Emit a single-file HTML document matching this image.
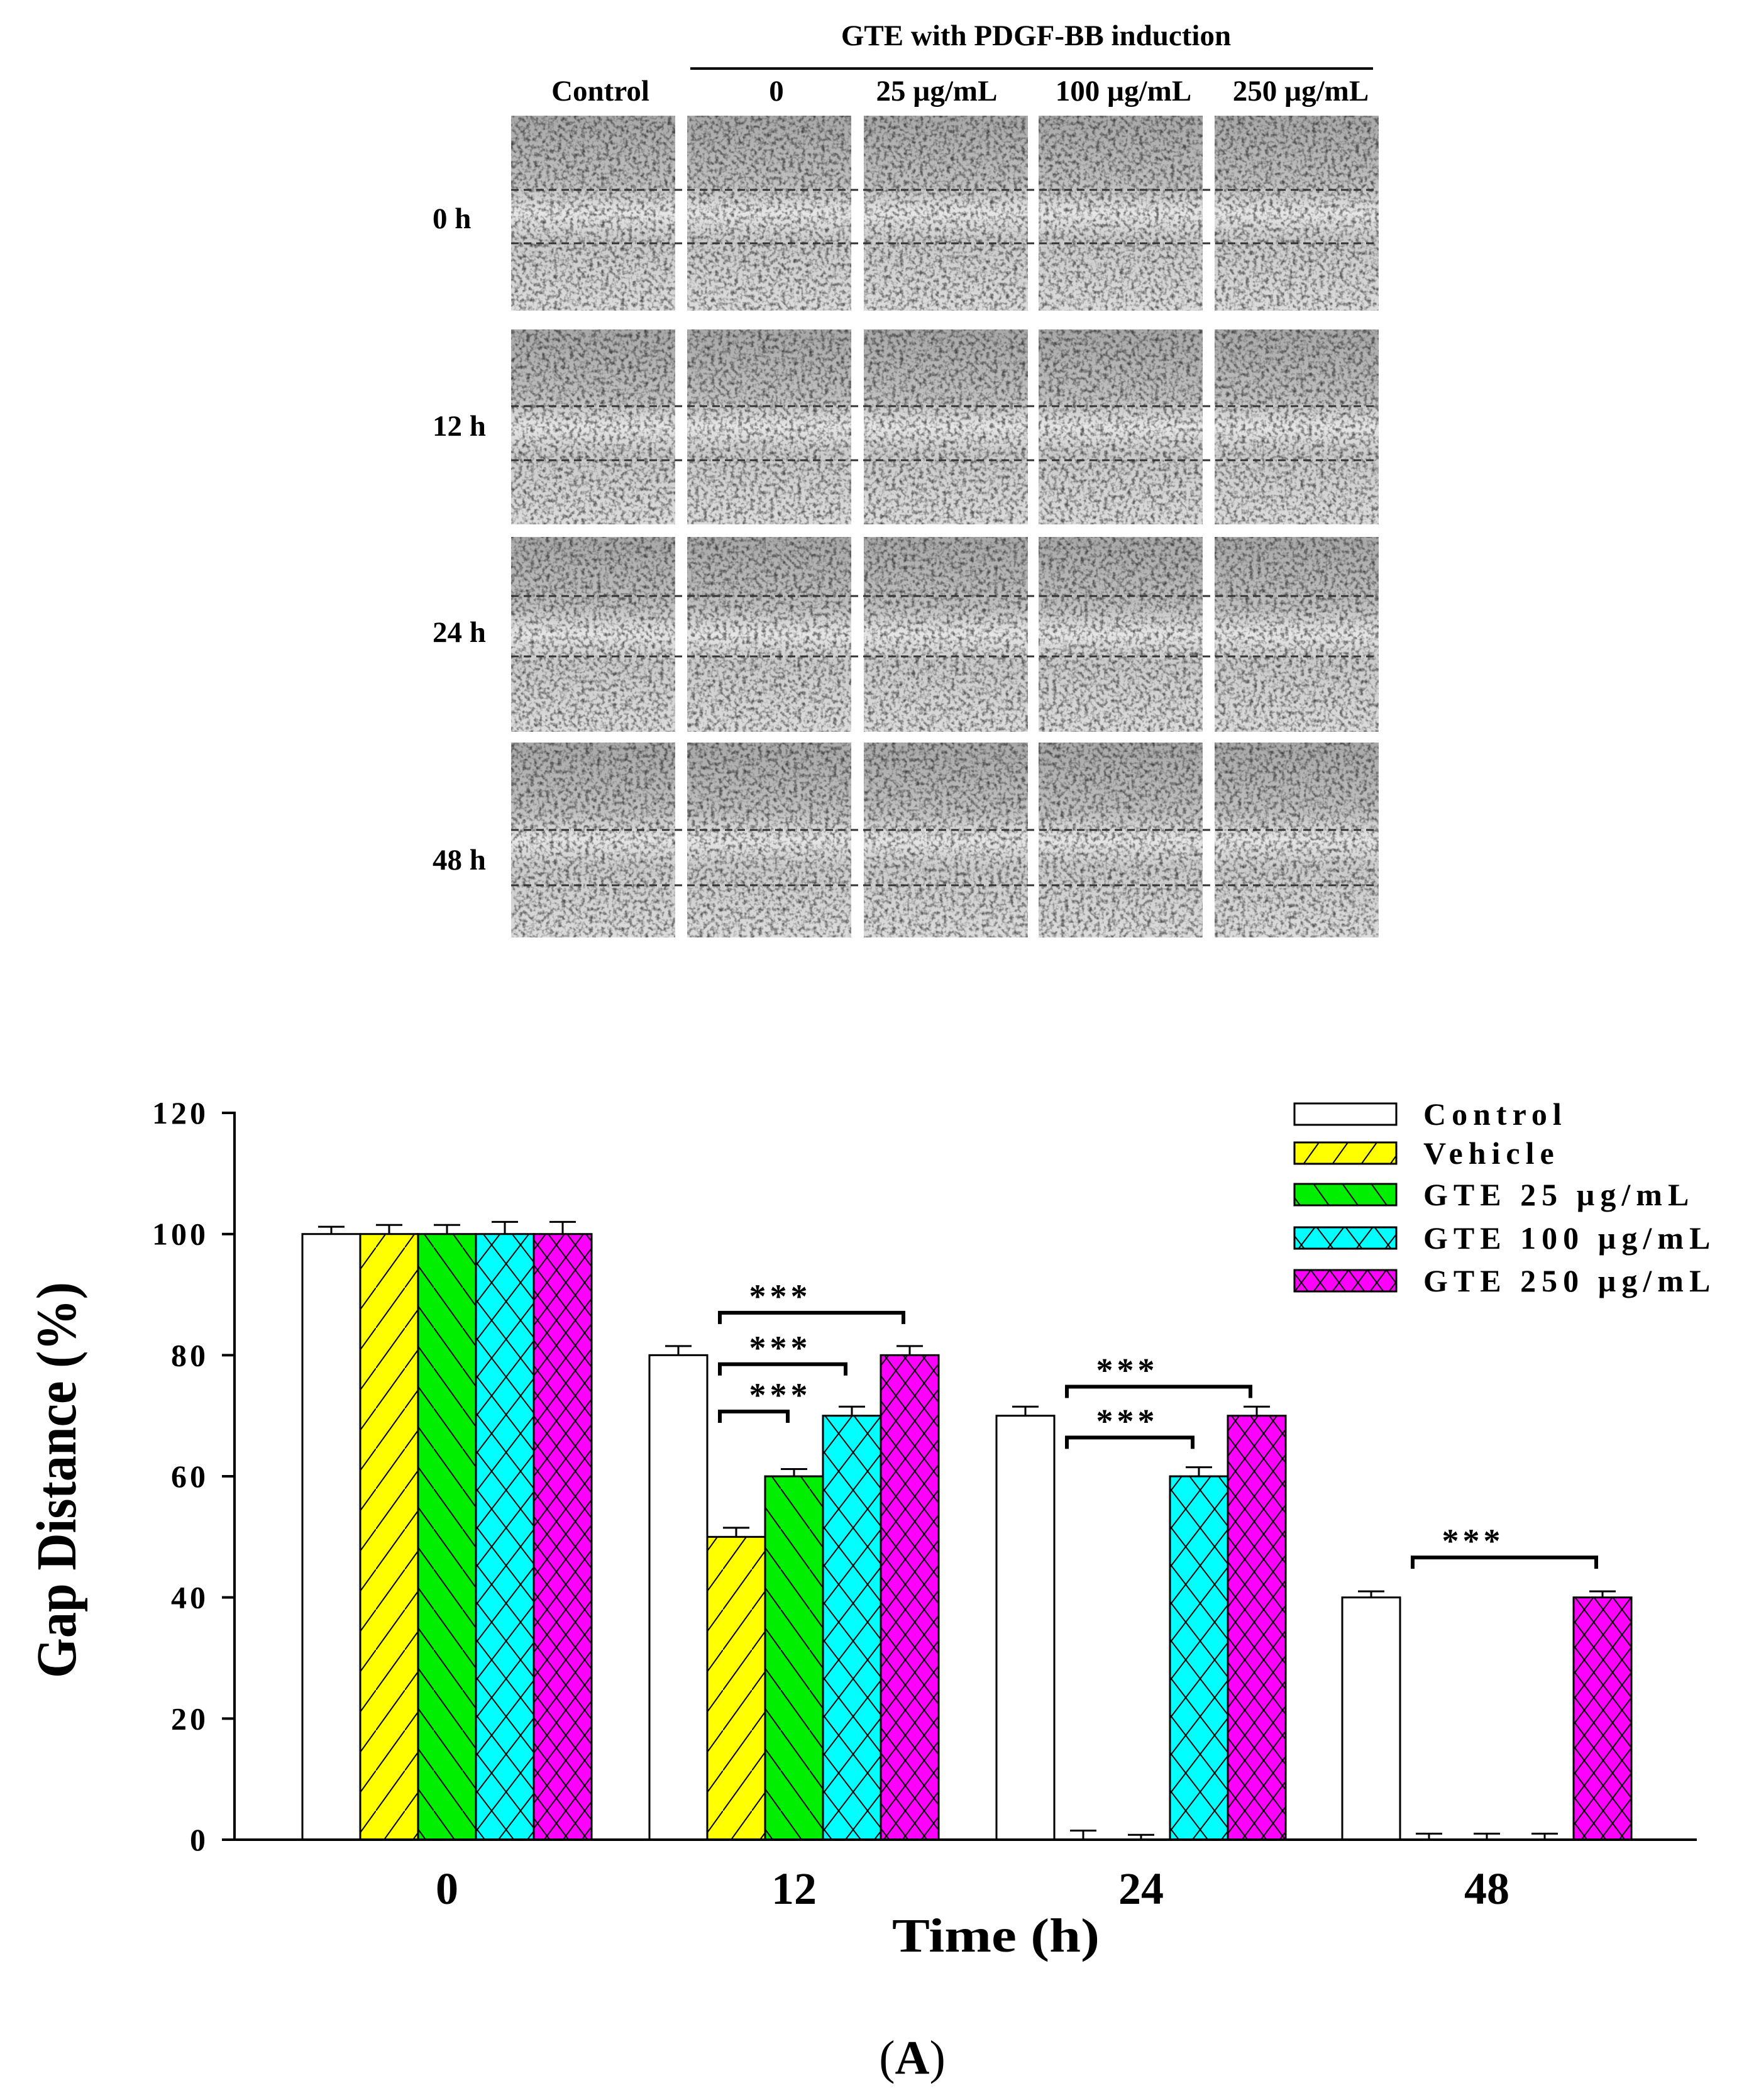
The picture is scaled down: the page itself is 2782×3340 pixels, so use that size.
<!DOCTYPE html>
<html><head><meta charset="utf-8">
<style>
html,body{margin:0;padding:0;background:#fff;}
svg{display:block;}
text{font-family:"Liberation Serif",serif;font-weight:bold;fill:#000;}
</style></head>
<body>
<svg id="fig" xmlns="http://www.w3.org/2000/svg" width="2782" height="3340" viewBox="0 0 2782 3340">
<defs>
  <filter id="cells" x="0" y="0" width="1" height="1">
    <feTurbulence type="fractalNoise" baseFrequency="0.16" numOctaves="2" seed="3" result="n"/>
    <feColorMatrix type="matrix" values="0 0 0 0 0  0 0 0 0 0  0 0 0 0 0  -2.6 0 0 0 1.45" in="n" result="a"/>
    <feComposite in="a" in2="SourceGraphic" operator="in"/>
  </filter>
  <linearGradient id="gapg" x1="0" y1="0" x2="0" y2="1">
    <stop offset="0" stop-color="#a8a8a8"/><stop offset="0.36" stop-color="#c0c0c0"/>
    <stop offset="0.5" stop-color="#e6e6e6"/><stop offset="0.64" stop-color="#cacaca"/><stop offset="1" stop-color="#dcdcdc"/>
  </linearGradient>
  <pattern id="pYel" patternUnits="userSpaceOnUse" width="46" height="64">
    <rect width="46" height="64" fill="#ffff00"/>
    <path d="M0,64 L46,0" stroke="#000" stroke-width="2"/>
  </pattern>
  <pattern id="pGrn" patternUnits="userSpaceOnUse" width="46" height="64">
    <rect width="46" height="64" fill="#00ee00"/>
    <path d="M0,0 L46,64" stroke="#000" stroke-width="2"/>
  </pattern>
  <pattern id="pCyn" patternUnits="userSpaceOnUse" width="46" height="60">
    <rect width="46" height="60" fill="#00ffff"/>
    <path d="M0,0 L46,60 M0,60 L46,0" stroke="#000" stroke-width="2"/>
  </pattern>
  <pattern id="pMag" patternUnits="userSpaceOnUse" width="30" height="40">
    <rect width="30" height="40" fill="#ff00ff"/>
    <path d="M0,0 L30,40 M0,40 L30,0" stroke="#000" stroke-width="2"/>
  </pattern>
</defs>

<g id="micro"></g>
<text x="1648" y="72" font-size="47" text-anchor="middle">GTE with PDGF-BB induction</text>
<line x1="1098" y1="109" x2="2184" y2="109" stroke="#000" stroke-width="4"/>

<g id="chart"></g>
<text x="1451" y="3298" font-size="76" text-anchor="middle" style="font-weight:normal">(<tspan font-weight="bold">A</tspan>)</text>
</svg>
<script>
const colLabels = ["Control","0","25 µg/mL","100 µg/mL","250 µg/mL"];
const rowLabels = ["0 h","12 h","24 h","48 h"];
const NS="http://www.w3.org/2000/svg";
function mk(tag, attrs, parent){const e=document.createElementNS(NS,tag);for(const k in attrs)e.setAttribute(k,attrs[k]);parent.appendChild(e);return e;}
const micro=document.getElementById('micro');
const colX=[813,1093,1374,1652,1932], colW=261;
const rowY=[184,524,854,1181], rowH=310;
const gapLines=[[302,387],[646,732],[948,1044],[1320,1408]];
const colHdrX=[955,1235,1490,1787,2069];
colLabels.forEach((c,i)=>{
  const t=mk('text',{x:colHdrX[i],y:160,'font-size':47,'text-anchor':'middle'},micro);
  
  
  t.textContent=c;
});
const rowLabY=[363,693,1021,1383];
rowLabels.forEach((r,i)=>{
  const t=mk('text',{x:688,y:rowLabY[i],'font-size':47},micro);
  
  
  t.textContent=r;
  colX.forEach((x,j)=>{
    const g=mk('g',{},micro);
    
    
    mk('rect',{x:x,y:rowY[i],width:colW,height:rowH,fill:'url(#gapg)'},g);
    mk('rect',{x:x,y:rowY[i],width:colW,height:rowH,fill:'#111',filter:'url(#cells)',opacity:0.6},g);
  });
  gapLines[i].forEach(yy=>{
    const l=mk('line',{x1:813,x2:2193,y1:yy,y2:yy,stroke:'#333','stroke-width':3,'stroke-dasharray':'12 8'},micro);
    
    
  });
});

// ---- bar chart data ----
const categories = ["0","12","24","48"];
const seriesNames = ["Control","Vehicle","GTE 25 µg/mL","GTE 100 µg/mL","GTE 250 µg/mL"];
const controlVals = [100,80,70,40];
const vehicleVals = [100,50,0,0];
const gte25Vals   = [100,60,0,0];
const gte100Vals  = [100,70,60,0];
const gte250Vals  = [100,80,70,40];
const controlErr = [1.2,1.5,1.5,1.0];
const vehicleErr = [1.5,1.5,1.5,1.0];
const gte25Err   = [1.5,1.2,0.8,1.0];
const gte100Err  = [2.0,1.5,1.5,1.0];
const gte250Err  = [2.0,1.5,1.5,1.0];
const yTicks = [0,20,40,60,80,100,120];
const sigLabel = "***";
const brackets = [[1,1,4,87],[1,1,3,78.5],[1,1,2,70.7],[2,1,4,74.8],[2,1,3,66.4],[3,1,4,46.6]];

const fills=['#fff','url(#pYel)','url(#pGrn)','url(#pCyn)','url(#pMag)'];
const allVals=[controlVals,vehicleVals,gte25Vals,gte100Vals,gte250Vals];
const allErr=[controlErr,vehicleErr,gte25Err,gte100Err,gte250Err];
const X0=373, XEND=2699, Y0=2926, PX_PER=9.633, BARW=92;
const groupStart=[481,1033,1585,2135];
function yS(v){return Y0 - v*PX_PER;}
function xS(ci,si){return groupStart[ci]+si*BARW;}
const chart=document.getElementById('chart');

categories.forEach((c,ci)=>{
  allVals.forEach((vals,si)=>{
    const v=vals[ci], x=xS(ci,si);
    if(v>0){
      const r=mk('rect',{x:x,y:yS(v),width:BARW,height:Y0-yS(v),fill:fills[si],stroke:'#000','stroke-width':3},chart);
      
      
    }
    const cx=x+BARW/2, top=yS(v), e=yS(v+allErr[si][ci]);
    const eb=mk('path',{d:`M${cx},${top} L${cx},${e} M${cx-21},${e} L${cx+21},${e}`,stroke:'#000','stroke-width':3,fill:'none'},chart);
    
    
  });
});

const ya=mk('line',{x1:X0,y1:yS(120)-2,x2:X0,y2:Y0+2,stroke:'#000','stroke-width':4},chart);


const xa=mk('line',{x1:X0-2,y1:Y0,x2:XEND,y2:Y0,stroke:'#000','stroke-width':4},chart);


yTicks.forEach(t=>{
  const tk=mk('line',{x1:X0-20,x2:X0,y1:yS(t),y2:yS(t),stroke:'#000','stroke-width':4},chart);
  
  
  const lb=mk('text',{x:332,y:yS(t)+17,'font-size':50,'text-anchor':'end','letter-spacing':5},chart);
  
  
  lb.textContent=t;
});
categories.forEach((c,ci)=>{
  const lb=mk('text',{x:groupStart[ci]+BARW*2.5,y:3028,'font-size':72,'text-anchor':'middle'},chart);
  
  
  lb.textContent=c;
});
const xt=mk('text',{x:1584,y:3104,'font-size':76,'text-anchor':'middle',textLength:330,lengthAdjust:'spacingAndGlyphs'},chart);


xt.textContent='Time (h)';
const yt=mk('text',{x:0,y:0,'font-size':90,'text-anchor':'middle',textLength:630,lengthAdjust:'spacingAndGlyphs',transform:'translate(120,2354) rotate(-90)'},chart);


yt.textContent='Gap Distance (%)';

brackets.forEach(b=>{
  const [ci,s1,s2,lv]=b;
  const x1=xS(ci,s1)+20, x2=xS(ci,s2)+BARW/2-10, y=yS(lv);
  const p=mk('path',{d:`M${x1},${y+18} L${x1},${y} L${x2},${y} L${x2},${y+18}`,stroke:'#000','stroke-width':6,fill:'none'},chart);
  
  
  const s=mk('text',{x:x1+96,y:y-8,'font-size':54,'text-anchor':'middle','letter-spacing':6},chart);
  
  
  s.textContent=sigLabel;
});

const legY=[1772,1834,1900,1969,2037];
seriesNames.forEach((n,i)=>{
  const g=mk('g',{},chart);
  
  
  mk('rect',{x:2059,y:legY[i]-17,width:162,height:34,fill:fills[i],stroke:'#000','stroke-width':3},g);
  const t=mk('text',{x:2264,y:legY[i]+17,'font-size':50,'letter-spacing':9},g);
  t.textContent=n;
});
</script>
</body></html>
